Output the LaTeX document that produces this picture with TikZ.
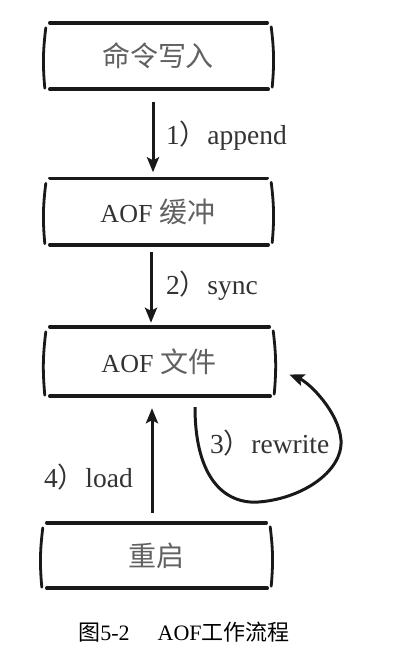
\documentclass[tikz,border=0pt]{standalone}
\usepackage{fontspec}
\setmainfont{Liberation Serif}
\newfontfamily\cjk{Noto Sans CJK SC}
\usetikzlibrary{arrows.meta,calc}
\tikzset{
  hbox/.style={draw=none, minimum width=226pt, minimum height=66pt, inner sep=0pt,
    font=\fontsize{26}{29}\selectfont, text=black!80},
  hline/.style={line width=3.6pt, line cap=round, black!90},
  sline/.style={line width=2.8pt, line cap=round, black!90},
  arr/.style={line width=3pt, black!90, -{Stealth[length=15pt,width=12pt,inset=3pt]}},
  lbl/.style={anchor=west, inner sep=0pt, font=\fontsize{27.5}{30}\selectfont, text=black!80},
}
\newcommand\handbox[1]{%
  \draw[hline] ($(#1.north west)+(5,0)$) -- ($(#1.north east)+(-4,0)$);
  \draw[hline] ($(#1.south west)+(5,0)$) -- ($(#1.south east)+(-3,0)$);
  \draw[sline] ($(#1.north west)+(1,5)$) to[bend right=6] ($(#1.south west)+(0,-1)$);
  \draw[sline] ($(#1.north east)+(0,4)$) to[bend left=6] ($(#1.south east)+(1,-2)$);
}
\newcommand\cn[1]{{\cjk\fontsize{28}{30}\selectfont\color{black!62}#1}}
\newcommand\cp{{\cjk\color{black!80}）}}
\begin{document}
\begin{tikzpicture}[x=1pt,y=-1pt]
\useasboundingbox[fill=white] (0,0) rectangle (420,665);
\node[hbox] (b1) at (158,56) {\cn{命令写入}};
\node[hbox] (b2) at (158,211.5) {AOF\hspace{7pt}\cn{缓冲}};
\node[hbox,minimum width=228pt,minimum height=69pt] (b3) at (159,361.5) {AOF\hspace{7pt}\cn{文件}};
\node[hbox,minimum width=228pt,minimum height=65pt] (b4) at (156,555.5) {\cn{重启}};
\handbox{b1}\handbox{b2}\handbox{b3}\handbox{b4}

\draw[arr] ($(b1.south)+(-5,13)$) -- ($(b2.north)+(-5,-6)$);
\draw[arr] ($(b2.south)+(-7,7)$) -- ($(b3.north)+(-8,-4)$);
\draw[arr] ($(b4.north)+(-4,-10)$) -- ($(b3.south)+(-7,12)$);

\coordinate (rs) at ($(b3.south)+(36,11)$);
\coordinate (re) at ($(b3.east)+(16,13)$);
\draw[arr] (rs) .. controls ($(rs)+(0,65)$) and ($(rs)+(25,95)$) .. ($(rs)+(60,95)$)
  .. controls ($(rs)+(105,93)$) and ($(rs)+(148,65)$) .. ($(rs)+(146,33)$)
  .. controls ($(rs)+(144,5)$) and ($(re)+(20,8)$) .. (re);

\node[lbl] (l1) at (166,136) {1\cp append};
\node[lbl] (l2) at (166,286) {2\cp sync};
\node[lbl] (l3) at (210,443) {3\cp rewrite};
\node[lbl] (l4) at (44,477) {4\cp load};

\node[inner sep=0pt, font=\fontsize{22}{25}\selectfont] (cap) at (184,632)
  {{\cjk 图}5-2\hspace{28pt}AOF{\cjk 工作流程}};
\end{tikzpicture}
\end{document}
